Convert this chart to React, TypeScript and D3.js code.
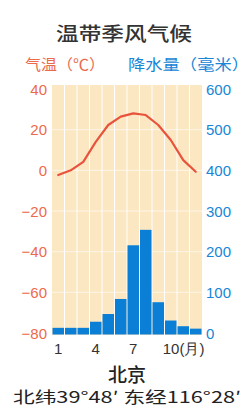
import * as d3 from 'd3';

const months = [1, 2, 3, 4, 5, 6, 7, 8, 9, 10, 11, 12];
const temperature = [-2.3, 0, 4.2, 14, 22.3, 26.4, 28, 27.2, 22.3, 14.9, 5, -0.7];
const precipitation = [9, 9, 9, 24, 43, 80, 212, 250, 72, 27, 13, 7];
const tempTicks = [40, 20, 0, -20, -40, -60, -80];
const precTicks = [600, 500, 400, 300, 200, 100, 0];
const monthLabels = ['1', '4', '7', '10(月)'];

const W = 251;
const H = 413;
const RED = '#ec6a4c';
const BLUE = '#1786d6';
const BAR = '#0a7fd5';
const BG = '#fce7c3';

export default function App(): JSX.Element {
  const x = d3.scaleBand<number>().domain(months).range([52, 202]).padding(0);
  const yT = d3.scaleLinear().domain([-80, 40]).range([333, 89]);
  const yP = d3.scaleLinear().domain([0, 600]).range([333, 89]);
  const fmt = d3.format('d');

  const line = d3
    .line<number>()
    .x((_, i) => (x(months[i]) as number) + x.bandwidth() / 2)
    .y((d) => yT(d));

  const font = "'Liberation Sans', Arial, sans-serif";
  const cjk = "'Noto Sans CJK SC', sans-serif";

  return (
    <svg
      xmlns="http://www.w3.org/2000/svg"
      width={W}
      height={H}
      style={{ position: 'absolute', left: 0, top: 0, background: '#fff' }}
    >
      <text x={124} y={32} textAnchor="middle" dominantBaseline="central" fontFamily={cjk}
        fontSize={19} fontWeight={500} fill="#333" textLength={136} lengthAdjust="spacingAndGlyphs">
        温带季风气候
      </text>
      <text x={25} y={63} dominantBaseline="central" fontFamily={cjk} fontSize={15}
        fill={RED} textLength={80} lengthAdjust="spacingAndGlyphs">
        气温（℃）
      </text>
      <text x={128} y={63} dominantBaseline="central" fontFamily={cjk} fontSize={15}
        fill={BLUE} textLength={121} lengthAdjust="spacingAndGlyphs">
        降水量（毫米）
      </text>

      <rect x={52} y={85} width={150} height={250} fill={BG} />
      {tempTicks.slice(1, -1).map((t) => (
        <line key={'h' + t} x1={52} x2={202} y1={yT(t)} y2={yT(t)} stroke="#fff" strokeOpacity={0.6} strokeWidth={1} />
      ))}
      {months.slice(1).map((m) => (
        <line key={'v' + m} x1={x(m)} x2={x(m)} y1={85} y2={335} stroke="#fff" strokeWidth={1} />
      ))}

      {precipitation.map((p, i) => (
        <rect
          key={'b' + i}
          x={(x(months[i]) as number) + 0.5}
          y={yP(p) - 1.5}
          width={x.bandwidth() - 1}
          height={yP(0) - yP(p) + 3}
          fill={BAR}
        />
      ))}

      <path d={line(temperature) as string} fill="none" stroke="#e8533c" strokeWidth={2.2}
        strokeLinejoin="round" strokeLinecap="round" />

      {tempTicks.map((t) => (
        <text key={'t' + t} x={47} y={yT(t)} textAnchor="end" dominantBaseline="central"
          fontFamily={font} fontSize={15} fill={RED}>
          {t < 0 ? '−' + fmt(-t) : fmt(t)}
        </text>
      ))}
      {precTicks.map((p) => (
        <text key={'p' + p} x={206} y={yP(p)} dominantBaseline="central"
          fontFamily={font} fontSize={15} fill={BLUE}>
          {fmt(p)}
        </text>
      ))}

      {monthLabels.map((m, i) => (
        <text key={'m' + m} x={(x(months[i * 3]) as number) + x.bandwidth() / 2} y={348}
          textAnchor={i === 3 ? 'start' : 'middle'} dx={i === 3 ? -8 : 0} dominantBaseline="central"
          fontFamily={font} fontSize={15} fill="#333">
          {m}
        </text>
      ))}

      <text x={127} y={373} textAnchor="middle" dominantBaseline="central" fontFamily={cjk}
        fontSize={19} fontWeight={500} fill="#222">
        北京
      </text>
      <text x={127} y={396} textAnchor="middle" dominantBaseline="central" fontFamily={cjk}
        fontSize={16} fill="#222" textLength={228} lengthAdjust="spacingAndGlyphs">
        北纬39°48′ 东经116°28′
      </text>
    </svg>
  );
}
